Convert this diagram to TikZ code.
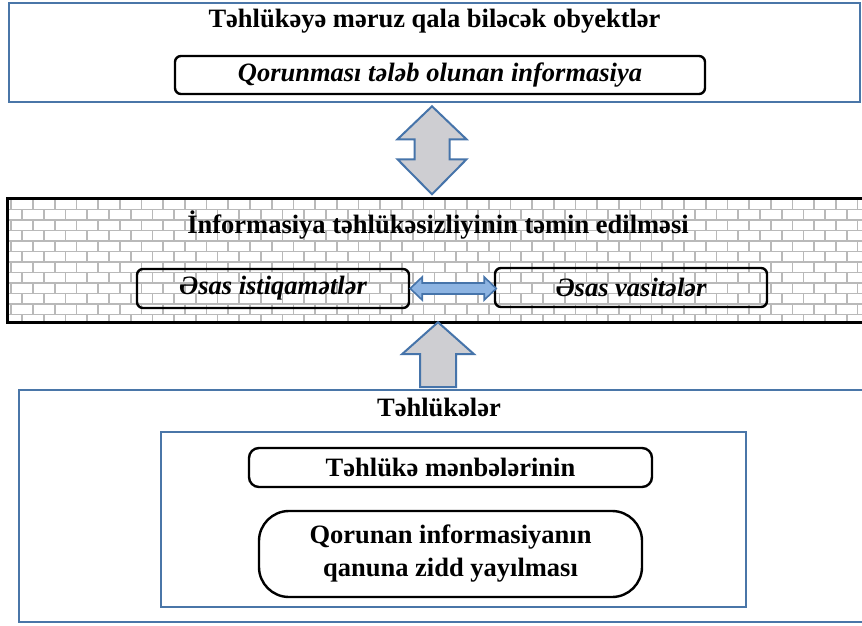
\documentclass[tikz,border=0pt]{standalone}
\usepackage{fontspec}
\setmainfont{Liberation Serif}
\usetikzlibrary{calc}
\definecolor{frameblue}{RGB}{74,118,168}
\definecolor{arrowgray}{RGB}{206,206,210}
\definecolor{arrowblue}{RGB}{141,180,226}
\definecolor{arrowedge}{RGB}{70,116,170}
\definecolor{mortar}{RGB}{185,185,185}
\tikzset{
  bluefr/.style={draw=frameblue, line width=2.6pt, fill=white, inner sep=0pt},
  blackfr/.style={draw=black, line width=3pt, inner sep=0pt},
  rbox/.style={draw=black, line width=2.4pt, rounded corners=6pt, inner sep=0pt},
  titletxt/.style={font=\fontsize{26.5}{30}\selectfont\bfseries, anchor=base, inner sep=0pt},
  itxt/.style={font=\fontsize{26.5}{30}\selectfont\bfseries\itshape},
  btxt/.style={font=\fontsize{26.5}{33}\selectfont\bfseries, align=center},
  grayarrow/.style={draw=arrowedge, line width=2pt, fill=arrowgray, line join=miter},
  bluearrow/.style={draw=arrowedge, line width=1.6pt, fill=arrowblue, line join=miter},
  mortarline/.style={draw=mortar, line width=1.7pt}
}
\begin{document}
\begin{tikzpicture}[x=1pt,y=-1pt]
\useasboundingbox (0,0) rectangle (862,626);
\fill[white] (0,0) rectangle (862,626);

% top frame
\node[bluefr, minimum width=851pt, minimum height=99pt] (top) at (434.5,52.5) {};
\node[titletxt] (toptitle) at (434.5,28) {Təhlükəyə məruz qala biləcək obyektlər};
\node[rbox, minimum width=530pt, minimum height=38pt, itxt] (info) at (440,75) {Qorunması tələb olunan informasiya};

% middle frame with bricks
\node[minimum width=862pt, minimum height=123pt, fill=white, inner sep=0pt] (mid) at (438.5,260.5) {};
\begin{scope}
  \clip (mid.north west) rectangle (mid.south east);
  \foreach \k in {0,...,11} {
    \pgfmathsetmacro\yy{199+10.5*\k}
    \pgfmathsetmacro\off{mod(\k,2)*10.85+11.3-21.7}
    \draw[mortarline] (0,\yy) -- (870,\yy);
    \foreach \j in {0,...,40} {
      \draw[mortarline] ({\off+21.7*\j},\yy) -- ++(0,10.5);
    }
  }
\end{scope}
\draw[blackfr] (mid.north west) rectangle (mid.south east);
\node[titletxt] (midtitle) at (438,233) {İnformasiya təhlükəsizliyinin təmin edilməsi};
\node[rbox, minimum width=272pt, minimum height=39pt, itxt] (dir) at (273,288.5) {Əsas istiqamətlər};
\node[rbox, minimum width=272pt, minimum height=39pt, itxt] (tools) at (631,287.5) {Əsas vasitələr};

% bottom frame
\node[bluefr, minimum width=851pt, minimum height=232pt] (bot) at (444.5,506) {};
\node[titletxt] (bottitle) at (439,416) {Təhlükələr};
\node[bluefr, minimum width=585pt, minimum height=175pt] (inner) at (453.5,519.5) {};
\node[rbox, rounded corners=10pt, minimum width=403pt, minimum height=39pt, btxt] (src) at (450.5,467.5) {Təhlükə mənbələrinin};
\node[rbox, rounded corners=30pt, minimum width=383pt, minimum height=86pt, btxt] (spread) at (450.5,554) {Qorunan informasiyanın\\qanuna zidd yayılması};

% vertical double arrow between top and mid
\draw[grayarrow] ([shift={(-2.5,3)}]top.south) -- ++(34.5,33) -- ++(-17,0) -- ++(0,20) -- ++(17,0)
  -- ++(-34.5,35) -- ++(-34.5,-35) -- ++(17,0) -- ++(0,-20) -- ++(-17,0) -- cycle;

% up arrow from bot to mid
\draw[grayarrow] ([shift={(-0.5,0)}]mid.south) -- ++(36,32) -- ++(-18,0) -- ++(0,33) -- ++(-36,0)
  -- ++(0,-33) -- ++(-18,0) -- cycle;

% horizontal double arrow
\draw[bluearrow] (dir.east) -- ++(12,-11.5) -- ++(0,6) -- ++(62,0) -- ++(0,-6) -- ++(12,11.5)
  -- ++(-12,11.5) -- ++(0,-6) -- ++(-62,0) -- ++(0,6) -- cycle;
\end{tikzpicture}
\end{document}
